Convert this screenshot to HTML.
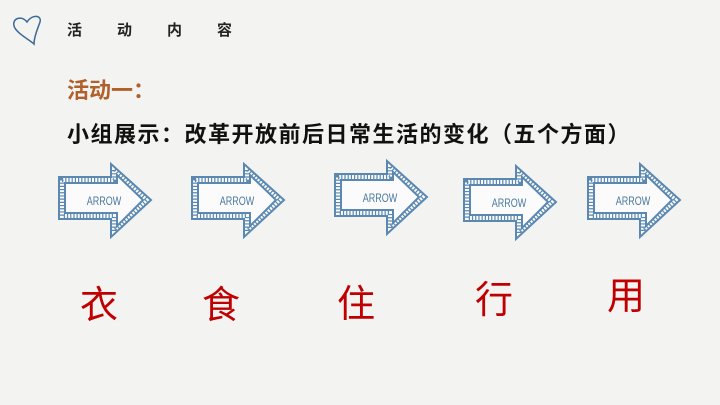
<!DOCTYPE html>
<html><head><meta charset="utf-8"><style>
body{margin:0;width:720px;height:405px;overflow:hidden;background:#f3f3f2;font-family:"Liberation Sans","Noto Sans CJK SC",sans-serif;position:relative}
.t{position:absolute;white-space:nowrap}
.c{position:absolute;color:#c00000;font-size:38px;font-family:"Noto Sans CJK SC",sans-serif;line-height:1}
</style></head><body>
<svg width="720" height="405" style="position:absolute;left:0;top:0">
<defs>
<g id="a">
<path d="M2,14 H54 V1 L94,37 L54,74 V56 H2 Z" fill="#fbfbfb" stroke="#5a88b0" stroke-width="2"/>
<path d="M8,20 H60 V12 L86,37 L60,63 V50 H8 Z" fill="none" stroke="#5a88b0" stroke-width="2"/>
<path d="M5,17 H57 V6 L90,37 L57,68 V53 H5 Z" fill="none" stroke="#5a88b0" stroke-width="4" stroke-dasharray="1.2 2"/>
<text x="47" y="42" text-anchor="middle" font-family="Liberation Sans Narrow, Liberation Sans, sans-serif" font-size="12" fill="#4a78a0" transform="translate(47 0) scale(0.75,1) translate(-47 0)">ARROW</text>
</g>
</defs>
<path d="M27,22 C22,15 12,18 14,26 C16,33 30,40 34,44 C34,36 38,28 40,22 C42,15 32,14 27,22Z" fill="none" stroke="#3d6a96" stroke-width="1.5"/>
<use href="#a" x="57" y="163"/>
<use href="#a" x="190" y="163"/>
<use href="#a" x="333" y="160"/>
<use href="#a" x="462" y="165"/>
<use href="#a" x="586" y="163"/>
</svg>
<div class="t" style="left:67px;top:19px;font-size:15px;font-weight:bold;letter-spacing:35px;color:#222">活动内容</div>
<div class="t" style="left:67px;top:73px;font-size:22px;font-weight:bold;color:#b0602a">活动一：</div>
<div class="t" style="left:67px;top:117px;font-size:22px;letter-spacing:1.5px;font-weight:bold;color:#111">小组展示：改革开放前后日常生活的变化（五个方面）</div>
<div class="c" style="left:80px;top:283px">衣</div>
<div class="c" style="left:202px;top:283px">食</div>
<div class="c" style="left:337px;top:282px">住</div>
<div class="c" style="left:475px;top:278px">行</div>
<div class="c" style="left:607px;top:274px">用</div>
</body></html>
